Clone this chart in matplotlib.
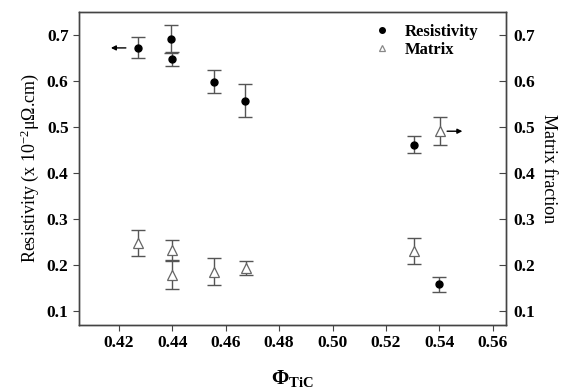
import numpy as np
import matplotlib.pyplot as plt

plt.rcParams.update({
    "font.family": ["Liberation Serif", "DejaVu Serif"],
    "mathtext.fontset": "custom",
    "mathtext.rm": "Liberation Serif",
    "mathtext.it": "Liberation Serif:italic",
    "mathtext.bf": "Liberation Serif:bold",
})

# resistivity (left axis), x 10^-2 uOhm.cm
res_x = [0.427, 0.4395, 0.4398, 0.4556, 0.4673, 0.5304, 0.540]
res_y = [0.672, 0.692, 0.648, 0.599, 0.557, 0.462, 0.158]
res_err = [0.023, 0.030, 0.015, 0.025, 0.036, 0.019, 0.016]

# matrix fraction (right axis)
mat_x = [0.427, 0.440, 0.4398, 0.4556, 0.4675, 0.5304, 0.5403]
mat_y = [0.248, 0.233, 0.179, 0.186, 0.194, 0.231, 0.491]
mat_err = [0.028, 0.021, 0.031, 0.030, 0.015, 0.028, 0.030]

XTICKS = [0.42, 0.44, 0.46, 0.48, 0.50, 0.52, 0.54, 0.56]
YTICKS = [0.1, 0.2, 0.3, 0.4, 0.5, 0.6, 0.7]

fig = plt.figure(figsize=(5.7, 3.9), dpi=100)
ax = fig.add_axes([0.1386, 0.1667, 0.7491, 0.8025])
ax2 = ax.twinx()

ecol = "#555555"
ax.errorbar(res_x, res_y, yerr=res_err, fmt="none", ecolor=ecol, elinewidth=1.0,
            capsize=4.7, capthick=1.0)
h1, = ax.plot(res_x, res_y, "o", color="black", ms=5, ls="none")
ax2.errorbar(mat_x, mat_y, yerr=mat_err, fmt="none", ecolor=ecol, elinewidth=1.0,
             capsize=4.7, capthick=1.0)
h2, = ax2.plot(mat_x, mat_y, "^", mfc="white", mec="#666666", mew=0.9, ms=6.5, ls="none")

# arrows pointing to the matching axis
ax.annotate("", xy=(0.4159, res_y[0]), xytext=(0.4236, res_y[0]),
            arrowprops=dict(arrowstyle="-|>", color="black", lw=1, mutation_scale=7))
ax2.annotate("", xy=(0.5497, mat_y[6]), xytext=(0.5419, mat_y[6]),
             arrowprops=dict(arrowstyle="-|>", color="black", lw=1, mutation_scale=7))

ax.set_xlim(0.405, 0.565)
for a in (ax, ax2):
    a.set_ylim(0.07, 0.75)
    a.set_yticks(YTICKS)
    a.set_yticklabels([f"{v:.1f}" for v in YTICKS], fontweight="bold", fontsize=12.5)
ax.set_xticks(XTICKS)
ax.set_xticklabels([f"{v:.2f}" for v in XTICKS], fontweight="bold", fontsize=12.5)

ax.tick_params(axis="both", direction="out", length=4, width=0.8, color="#444444")
ax2.tick_params(axis="y", direction="in", length=5, width=0.8, color="#444444", pad=5)
for a in (ax, ax2):
    for s in a.spines.values():
        s.set_color("#444444")
        s.set_linewidth(1.0)

ax.set_ylabel(r"Resistivity (x 10$^{-2}$μΩ.cm)", fontsize=13, labelpad=4)
ax2.set_ylabel("Matrix fraction", fontsize=13, rotation=270, labelpad=16)
ax.set_xlabel(r"$\mathbf{\Phi}_{\mathbf{TiC}}$", fontsize=15, labelpad=12)

leg = ax.legend([h1, h2], ["Resistivity", "Matrix"], loc="upper right",
                bbox_to_anchor=(0.97, 1.01), frameon=False, handlelength=1.5,
                handletextpad=0.6, labelspacing=0.1,
                prop={"weight": "bold", "size": 12})
h2_leg = leg.legend_handles[1]
h2_leg.set_markersize(5)
h2_leg.set_markeredgecolor("#888888")
leg.legend_handles[0].set_markersize(4)

fig.savefig("out.png", dpi=100)
